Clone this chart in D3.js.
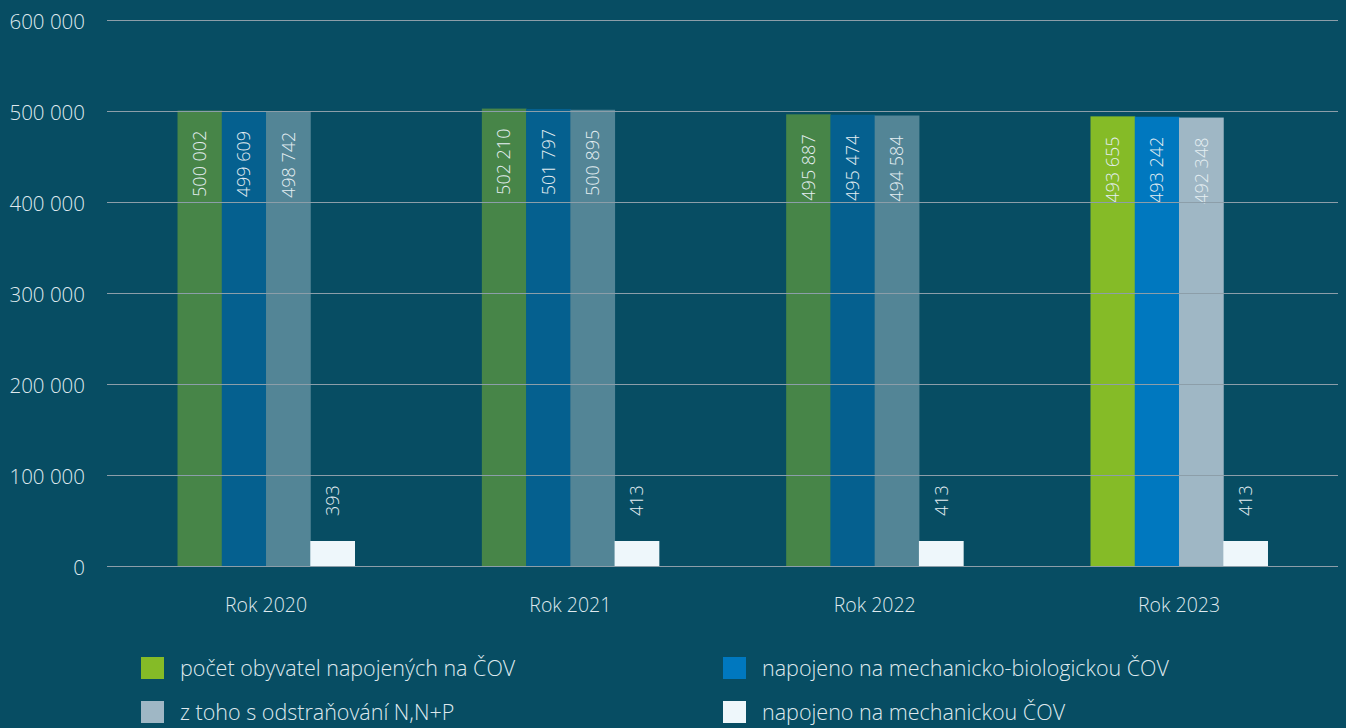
<!DOCTYPE html>
<html><head><meta charset="utf-8">
<script src="https://cdn.jsdelivr.net/npm/d3@7"></script>
<style>
html,body{margin:0;padding:0;background:#074d63;}
svg{display:block;font-family:"Open Sans",sans-serif;}
</style></head>
<body><svg id="c" width="1346" height="728"></svg>
<script>
const years = ["Rok 2020","Rok 2021","Rok 2022","Rok 2023"];
const seriesNames = ["počet obyvatel napojených na ČOV","napojeno na mechanicko-biologickou ČOV","z toho s odstraňování N,N+P","napojeno na mechanickou ČOV"];
const totalConnected = [500002, 502210, 495887, 493655];
const mechBio = [499609, 501797, 495474, 493242];
const nutrientRemoval = [498742, 500895, 494584, 492348];
const mechOnly = [393, 413, 413, 413];
const yTicks = [0,100000,200000,300000,400000,500000,600000];

const seriesValues = [totalConnected, mechBio, nutrientRemoval, mechOnly];
const brightColors = ["#85bb27","#0078bf","#9fb7c5","#eef7fb"];
const mutedColors = ["#478548","#05608f","#538596","#eef7fb"];

const svg = d3.select("#c");
const fmt = v => d3.format(",")(v).replace(/,/g," ");

const y = d3.scaleLinear().domain([0,600000]).range([566,19.5]);
const x0 = d3.scaleBand().domain(years).range([107,1338]).paddingInner(0.4184).paddingOuter(0.2317);
const x1 = d3.scaleBand().domain(d3.range(4)).range([0,x0.bandwidth()]);

// axis labels
const yAxis = d3.axisLeft(y).tickValues(yTicks).tickFormat(fmt).tickSize(0).tickPadding(0);
const gy = svg.append("g").attr("transform","translate(85,2)").call(yAxis);
gy.select(".domain").remove();
gy.selectAll("text").attr("fill","#dfe9ee").style("font-size","20.5px").style("font-family","Open Sans").style("font-weight","300");

// bars
const minH = 25;
const groups = svg.append("g").selectAll("g").data(years).join("g")
  .attr("transform",d=>`translate(${x0(d)},0)`);
groups.each(function(yr, gi){
  const g = d3.select(this);
  const isLast = gi === years.length-1;
  seriesValues.forEach((vals, si)=>{
    const v = vals[gi];
    let top = y(v);
    if (y(0)-top < minH) top = y(0)-minH;
    g.append("rect").attr("x",x1(si)).attr("width",x1.bandwidth()+0.5)
      .attr("y",top).attr("height",y(0)-top)
      .attr("fill",isLast?brightColors[si]:mutedColors[si]);
    const small = (y(0)-y(v)) < 100;
    const cx = x1(si)+x1.bandwidth()/2;
    const ty = small ? top-25 : top+20;
    g.append("text")
      .attr("transform",`translate(${cx+6.5},${ty}) rotate(-90)`)
      .attr("text-anchor", small ? "start" : "end")
      .attr("fill","#e4eef2").style("font-size","18px").style("font-weight","300")
      .text(fmt(v));
  });
});

// grid lines on top
svg.append("g").selectAll("line").data(yTicks).join("line")
  .attr("x1",107).attr("x2",1338).attr("y1",d=>Math.round(y(d))+0.5).attr("y2",d=>Math.round(y(d))+0.5)
  .attr("stroke","#8c9ea9").attr("stroke-width",1);

// x labels
const xAxis = d3.axisBottom(x0).tickSize(0).tickPadding(0);
const gx = svg.append("g").attr("transform","translate(0,612)").call(xAxis);
gx.select(".domain").remove();
gx.selectAll("text").attr("dy",0).attr("fill","#dfe9ee").style("font-size","19.5px").style("font-family","Open Sans").style("font-weight","300");

// legend
const legPos = [[141,657],[723,657],[141,701],[723,701]];
legPos.forEach(([lx,ly],si)=>{
  svg.append("rect").attr("x",lx).attr("y",ly).attr("width",23).attr("height",22).attr("fill",brightColors[si]);
  svg.append("text").attr("x",lx+39).attr("y",ly+19).attr("fill","#dfe9ee")
    .style("font-size","21.5px").style("font-weight","300").text(seriesNames[si]);
});
</script></body></html>
